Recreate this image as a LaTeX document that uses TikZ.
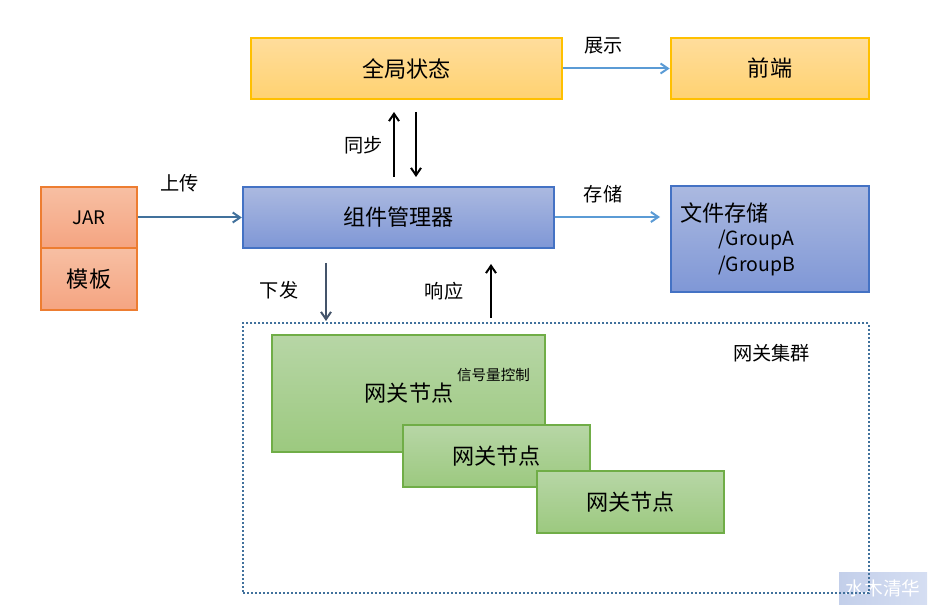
\documentclass[tikz,border=0pt]{standalone}
\usepackage{fontspec}
\setmainfont{Noto Sans CJK SC}
\usetikzlibrary{arrows.meta}
\definecolor{ytop}{HTML}{FFDD9C}\definecolor{ybot}{HTML}{FFD271}\definecolor{yline}{HTML}{FFC000}
\definecolor{btop}{HTML}{ABB9E0}\definecolor{bbot}{HTML}{7F97D6}\definecolor{bline}{HTML}{4472C4}
\definecolor{otop}{HTML}{F7BFA3}\definecolor{obot}{HTML}{F5A481}\definecolor{oline}{HTML}{ED7D31}
\definecolor{gtop}{HTML}{B7D6A6}\definecolor{gbot}{HTML}{9CC97F}\definecolor{gline}{HTML}{70AD47}
\definecolor{arrblue}{HTML}{5B9BD5}\definecolor{arrslate}{HTML}{44546A}\definecolor{arrsteel}{HTML}{41719C}
\definecolor{wmtop}{HTML}{C3CFEA}\definecolor{wmbot}{HTML}{D5DEF2}
\tikzset{
  x=0.75pt,y=-0.75pt,
  bx/.style={draw,line width=1.5pt,inner sep=0pt,align=center,font=\fontsize{16.6}{20}\selectfont},
  yellowbox/.style={bx,draw=yline,top color=ytop,bottom color=ybot},
  bluebox/.style={bx,draw=bline,top color=btop,bottom color=bbot},
  orangebox/.style={bx,draw=oline,top color=otop,bottom color=obot},
  greenbox/.style={bx,draw=gline,top color=gtop,bottom color=gbot},
  lbl/.style={inner sep=0pt,font=\fontsize{14.4}{17}\selectfont},
  conn/.style={line width=1.5pt,-{Straight Barb[length=5.5pt,width=7.5pt]}},
}
\begin{document}
\begin{tikzpicture}
\useasboundingbox (0,0) rectangle (932,609);
% watermark
\node[minimum width=66pt,minimum height=23.5pt,inner sep=0pt,left color=wmtop,right color=wmbot,text=white,font=\fontsize{14}{16}\selectfont] (wm) at (883,588.5) {水木清华};
% outer group
\node[draw=arrsteel,line width=1.5pt,dash pattern=on 1.5pt off 1.5pt,minimum width=469.5pt,minimum height=202pt,inner sep=0pt] (cluster) at (556,458) {};
\node[yellowbox,minimum width=233.5pt,minimum height=45.5pt] (state) at (406.5,68.5) {全局状态};
\node[yellowbox,minimum width=149pt,minimum height=45.5pt] (front) at (770,68.5) {前端};
\node[bluebox,minimum width=233.5pt,minimum height=45.5pt] (mgr) at (398.5,217.5) {组件管理器};
\node[bluebox,minimum width=149pt,minimum height=79.5pt] (store) at (770,239) {};
\node[anchor=west,inner sep=0pt,font=\fontsize{16.6}{20}\selectfont] (storeT) at (680,213) {文件存储};
\node[anchor=west,inner sep=0pt,font=\fontsize{14.6}{17}\selectfont] (groupA) at (718,240) {/GroupA};
\node[anchor=west,inner sep=0pt,font=\fontsize{14.6}{17}\selectfont] (groupB) at (718,266) {/GroupB};
\node[orangebox,minimum width=71.5pt,minimum height=46pt,font=\fontsize{14}{16}\selectfont] (jar) at (89,217.5) {JAR};
\node[orangebox,minimum width=71.5pt,minimum height=46.5pt] (tpl) at (89,279.5) {模板};
\node[greenbox,minimum width=204.5pt,minimum height=87.5pt] (gw1) at (408.5,393.5) {};
\node[inner sep=0pt,font=\fontsize{16.6}{20}\selectfont] (gw1t) at (409,393) {网关节点};
\node[inner sep=0pt,font=\fontsize{10.9}{13}\selectfont] (sig) at (493.5,374.5) {信号量控制};
\node[greenbox,minimum width=140pt,minimum height=46pt] (gw2) at (496.5,456) {网关节点};
\node[greenbox,minimum width=140pt,minimum height=46pt] (gw3) at (630.5,502) {网关节点};
\node[lbl] (l1) at (603.5,45.5) {展示};
\node[lbl] (l2) at (179.5,183) {上传};
\node[lbl] (l3) at (363.5,145) {同步};
\node[lbl] (l4) at (603,194) {存储};
\node[lbl] (l5) at (279,290) {下发};
\node[lbl] (l6) at (444,291) {响应};
\node[lbl] (l7) at (771.5,353) {网关集群};
% connectors
\coordinate (syncUpS) at (394,177); \coordinate (syncUpE) at (394,112);
\coordinate (syncDnS) at (416,112); \coordinate (syncDnE) at (416,177);
\coordinate (storeS) at (555,217); \coordinate (storeE) at (660,217);
\coordinate (sendS) at (326,263); \coordinate (sendE) at (326,321);
\coordinate (respS) at (491,318); \coordinate (respE) at (491,264);
\draw[conn,arrblue] (state.east) -- (front.west);
\draw[conn,arrsteel] (jar.east) -- (mgr.west);
\draw[conn,arrblue] (storeS) -- (storeE);
\draw[conn,black] (syncUpS) -- (syncUpE);
\draw[conn,black] (syncDnS) -- (syncDnE);
\draw[conn,arrslate] (sendS) -- (sendE);
\draw[conn,black] (respS) -- (respE);
\end{tikzpicture}
\end{document}
